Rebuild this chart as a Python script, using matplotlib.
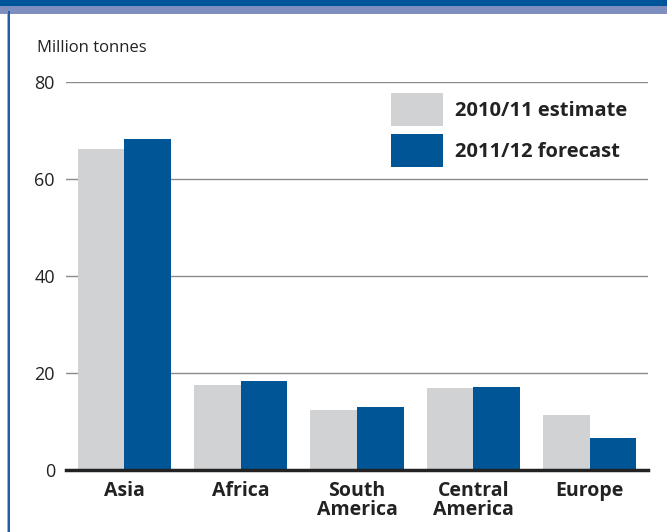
import matplotlib
matplotlib.use("Agg")
import matplotlib.pyplot as plt
import numpy as np
from matplotlib.patches import Rectangle

categories = ["Asia", "Africa", "South\nAmerica", "Central\nAmerica", "Europe"]
est_2010 = [66.2, 17.5, 12.4, 16.9, 11.3]
fc_2011 = [68.2, 18.3, 13.0, 17.1, 6.5]
series_labels = ["2010/11 estimate", "2011/12 forecast"]
yticks = [0, 20, 40, 60, 80]

GRAY = "#D1D2D4"
BLUE = "#005597"

plt.rcParams['font.family'] = ['Open Sans', 'DejaVu Sans']

W, H = 667, 532
fig = plt.figure(figsize=(W/100, H/100), dpi=100)

# axes: x from 66 to 648, y from 82 (80) to 470 (0)
ax = fig.add_axes([66/W, 1-470/H, (648-66)/W, (470-82)/H])
x = np.arange(len(categories))
bw = 0.40
b1 = ax.bar(x - bw/2, est_2010, width=bw, color=GRAY, zorder=3, label=series_labels[0])
b2 = ax.bar(x + bw/2, fc_2011, width=bw, color=BLUE, zorder=3, label=series_labels[1])

ax.set_xlim(-0.5, len(categories) - 0.5)
ax.set_ylim(0, 80)
ax.set_yticks(yticks)
ax.set_yticklabels([str(v) for v in yticks], fontsize=13, color="#222222")
ax.yaxis.grid(True, color="#8a8a8a", linewidth=1.0, zorder=0)
ax.set_axisbelow(True)
ax.tick_params(axis='y', length=0, pad=8)
ax.tick_params(axis='x', length=0, pad=8)
ax.set_xticks(x)
ax.set_xticklabels(categories, fontsize=14, fontweight='bold', color="#222222", linespacing=0.92)
for s in ["top", "right", "left"]:
    ax.spines[s].set_visible(False)
ax.spines["bottom"].set_color("#222222")
ax.spines["bottom"].set_linewidth(2.5)
ax.spines["bottom"].set_zorder(5)

fig.text(37/W, 1-48/H, "Million tonnes", fontsize=12, color="#222222", va="center", ha="left")

leg = ax.legend(handles=[b1, b2], labels=series_labels, loc="upper left",
                bbox_to_anchor=(391/W, 1-93/H), bbox_transform=fig.transFigure,
                frameon=False, prop={'weight': 'bold', 'size': 14.5},
                handlelength=2.6, handleheight=2.15, labelspacing=0.4,
                handletextpad=0.6, borderpad=0, borderaxespad=0)
for t in leg.get_texts():
    t.set_color("#222222")

# decorative border
fig.patches.append(Rectangle((0, 1-6/H), 1, 6/H, transform=fig.transFigure,
                             facecolor="#00559A", edgecolor="none"))
fig.patches.append(Rectangle((0, 1-14/H), 1, 8/H, transform=fig.transFigure,
                             facecolor="#7E8FBF", edgecolor="none"))
fig.patches.append(Rectangle((7/W, 0), 1/W, 1-14/H, transform=fig.transFigure,
                             facecolor="#9FB0D0", edgecolor="none"))
fig.patches.append(Rectangle((8/W, 0), 2/W, 1-11/H, transform=fig.transFigure,
                             facecolor="#1F5FA8", edgecolor="none"))

fig.savefig("out.png", dpi=100)
